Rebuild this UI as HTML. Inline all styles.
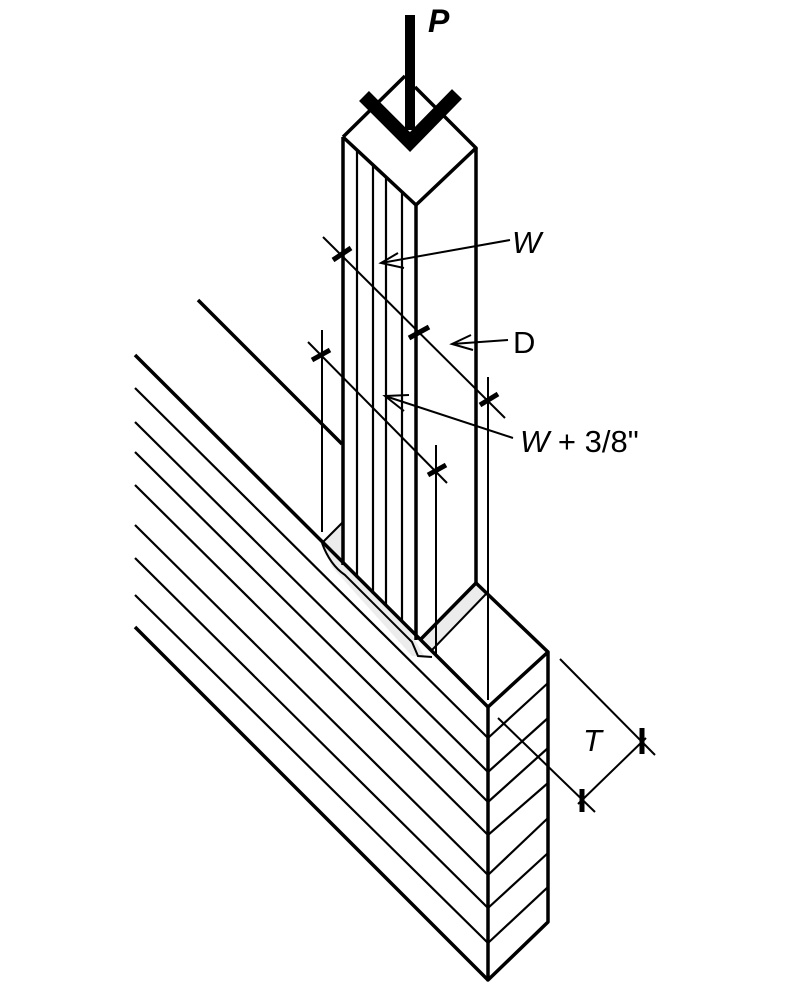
<!DOCTYPE html>
<html><head><meta charset="utf-8"><style>html,body{margin:0;padding:0;background:#fff}svg{display:block}</style></head>
<body>
<svg width="792" height="988" viewBox="0 0 792 988" xmlns="http://www.w3.org/2000/svg" stroke="#000" fill="none" stroke-linecap="butt">
<!-- gray notch fills -->
<polygon points="322,543 343,522 343,565 410,632 425,657 412,656 332,567" fill="#ececec" stroke="none"/>
<polygon points="476,583 486,594 432,650 420,640" fill="#ececec" stroke="none"/>
<!-- beam front face hatch -->
<g stroke-width="2.2">
<line x1="135" y1="388" x2="488" y2="738"/>
<line x1="135" y1="422" x2="488" y2="772"/>
<line x1="135" y1="452" x2="488" y2="802"/>
<line x1="135" y1="485" x2="488" y2="835"/>
<line x1="135" y1="525" x2="488" y2="875"/>
<line x1="135" y1="558" x2="488" y2="908"/>
<line x1="135" y1="595" x2="488" y2="943"/>
<!-- end face hatch -->
<line x1="488" y1="738" x2="548" y2="683"/>
<line x1="488" y1="772" x2="548" y2="718"/>
<line x1="488" y1="802" x2="548" y2="748"/>
<line x1="488" y1="835" x2="548" y2="783"/>
<line x1="488" y1="875" x2="548" y2="818"/>
<line x1="488" y1="908" x2="548" y2="853"/>
<line x1="488" y1="943" x2="548" y2="887"/>
</g>
<!-- beam outline -->
<g stroke-width="3.5" stroke-linejoin="round">
<line x1="135" y1="355" x2="488" y2="707"/>
<line x1="135" y1="627" x2="488" y2="980"/>
<polyline points="488,707 488,980 548,922 548,652 488,707"/>
<line x1="476" y1="583" x2="548" y2="652"/>
<line x1="198" y1="300" x2="342" y2="444"/>
</g>
<!-- notch -->
<g stroke-width="2">
<path d="M322,543 L343,522"/>
<path d="M322,543 Q330,565 345,575 L412,642 L418,656 L432,657"/>
<line x1="486" y1="594" x2="432" y2="650"/>
</g>
<line x1="476" y1="583" x2="420" y2="640" stroke-width="3.5"/>
<!-- post -->
<g stroke-width="3.5" stroke-linejoin="round">
<line x1="343" y1="137" x2="343" y2="565"/>
<line x1="416" y1="205" x2="416" y2="640"/>
<line x1="476" y1="148" x2="476" y2="583"/>
<polyline points="343,137 405,76"/>
<polyline points="343,137 416,205 476,148 415,87"/>
</g>
<g stroke-width="2.2">
<line x1="357" y1="150" x2="357" y2="578"/>
<line x1="373" y1="165" x2="373" y2="594"/>
<line x1="386" y1="177" x2="386" y2="606"/>
<line x1="402" y1="192" x2="402" y2="622"/>
</g>
<!-- extension lines -->
<g stroke-width="2">
<line x1="322" y1="330" x2="322" y2="532"/>
<line x1="436" y1="445" x2="436" y2="655"/>
<line x1="488" y1="377" x2="488" y2="700"/>
<!-- dimension lines -->
<line x1="323" y1="237" x2="505" y2="418"/>
<line x1="308" y1="342" x2="447" y2="483"/>
<line x1="560" y1="659" x2="655" y2="755"/>
<line x1="498" y1="718" x2="595" y2="812"/>
<line x1="578" y1="804" x2="646" y2="738"/>
<!-- leaders -->
<line x1="510" y1="240" x2="381" y2="263"/>
<polyline points="398,253 381,263 404,268"/>
<line x1="508" y1="340" x2="452" y2="344"/>
<polyline points="471,335 452,344 473,350"/>
<line x1="513" y1="438" x2="385" y2="396"/>
<polyline points="409,395 385,396 404,411"/>
</g>
<!-- ticks -->
<g stroke-width="5">
<line x1="333" y1="260" x2="351" y2="248"/>
<line x1="409" y1="338" x2="429" y2="327"/>
<line x1="480" y1="405" x2="498" y2="394"/>
<line x1="312" y1="360" x2="330" y2="350"/>
<line x1="428" y1="475" x2="446" y2="465"/>
<line x1="642" y1="728" x2="642" y2="754"/>
<line x1="582" y1="789" x2="582" y2="812"/>
</g>
<!-- load arrow -->
<line x1="410" y1="15" x2="410" y2="130" stroke-width="10"/>
<polyline points="364,96 410,142 457,94" stroke-width="14" stroke-linejoin="miter"/>
<!-- text -->
<g fill="#000" stroke="none" font-family="'Liberation Sans', sans-serif">
<text x="428" y="32" font-size="32" font-weight="bold" font-style="italic">P</text>
<text x="512" y="253" font-size="31" font-style="italic">W</text>
<text x="513" y="353" font-size="31">D</text>
<text x="520" y="452" font-size="31"><tspan font-style="italic">W</tspan> + 3/8"</text>
<text x="583" y="751" font-size="31" font-style="italic">T</text>
</g>
</svg>
</body></html>
